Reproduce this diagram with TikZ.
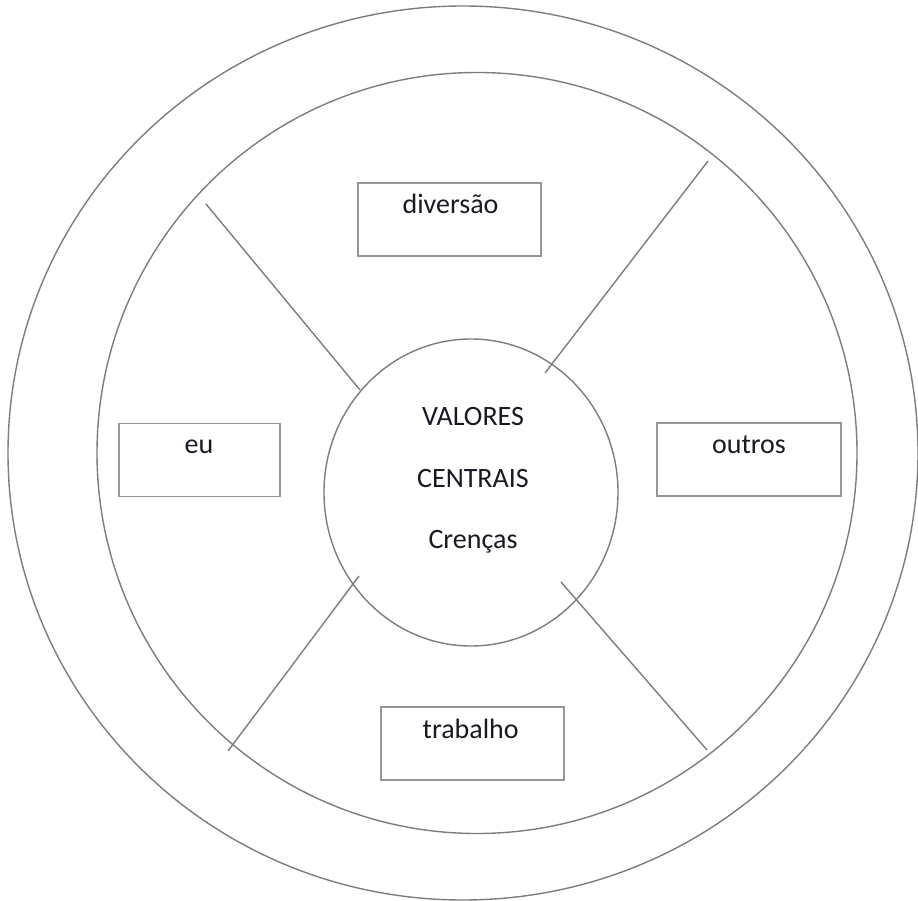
\documentclass[tikz,border=0pt]{standalone}
\usepackage{fontspec}
\setmainfont{Carlito}
\usetikzlibrary{shapes.geometric}
\definecolor{linegray}{RGB}{125,125,125}
\definecolor{boxgray}{RGB}{150,150,150}
\definecolor{txt}{RGB}{25,25,35}
\begin{document}
\begin{tikzpicture}[x=1pt,y=-1pt,
  ring/.style={draw=linegray,line width=1.4pt,ellipse,inner sep=0pt},
  spoke/.style={draw=linegray,line width=1.4pt},
  labelbox/.style={draw=boxgray,line width=1.4pt,rectangle,inner sep=0pt,minimum height=73pt},
  lbl/.style={anchor=base,inner sep=0pt,text=txt,font=\fontsize{28}{32}\selectfont}]
\useasboundingbox (0,0) rectangle (918,901);
% rings
\node[ring,minimum width=910pt,minimum height=894pt] (outer) at (463,453) {};
\node[ring,minimum width=760pt,minimum height=761pt] (middle) at (477,453) {};
\node[ring,minimum width=294pt,minimum height=307pt] (inner) at (471,492.5) {};
% spoke ends
\coordinate (ulo) at (206,204);
\coordinate (uli) at (360,390);
\coordinate (uro) at (708,161);
\coordinate (uri) at (545,373);
\coordinate (llo) at (228,751);
\coordinate (lli) at (359,576);
\coordinate (lro) at (707,750);
\coordinate (lri) at (561,582);
\draw[spoke] (ulo) -- (uli);
\draw[spoke] (uro) -- (uri);
\draw[spoke] (llo) -- (lli);
\draw[spoke] (lro) -- (lri);
% boxes
\node[labelbox,minimum width=183pt] (bdiv) at (449.5,219.5) {};
\node[labelbox,minimum width=161pt] (beu) at (199.5,459.7) {};
\node[labelbox,minimum width=184pt] (bout) at (749,459.5) {};
\node[labelbox,minimum width=183pt] (btrab) at (472.5,743.5) {};
% labels
\node[lbl] (tdiv) at (450.5,214) {diversão};
\node[lbl] (teu) at (199,453) {eu};
\node[lbl] (tout) at (749,453) {outros};
\node[lbl] (ttrab) at (470.7,738) {trabalho};
\node[lbl] (tval) at (473,425) {VALORES};
\node[lbl] (tcen) at (473,487) {CENTRAIS};
\node[lbl] (tcre) at (473,548) {Crenças};
\end{tikzpicture}
\end{document}
